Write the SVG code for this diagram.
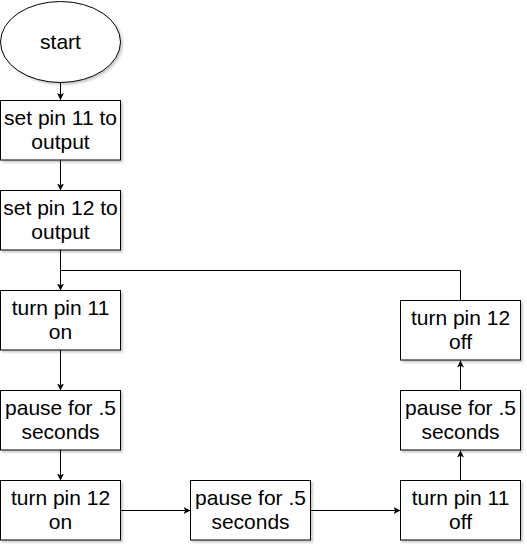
<svg xmlns="http://www.w3.org/2000/svg" width="527" height="547" viewBox="0 0 527 547">
<style>
.n{fill:#fff;stroke:#000;stroke-width:1;filter:url(#sh)}
.t{font-family:"Liberation Sans",Arial,sans-serif;font-size:21px;fill:#000;text-anchor:middle}
.c{fill:none;stroke:#000;stroke-width:1}
</style>
<defs>
<filter id="sh" x="-10%" y="-10%" width="130%" height="130%">
<feDropShadow dx="2" dy="2" stdDeviation="1" flood-color="#000" flood-opacity="0.2"/>
</filter>
<marker id="a" viewBox="0 0 10 10" refX="10" refY="5" markerWidth="7" markerHeight="7" markerUnits="userSpaceOnUse" orient="auto">
<path d="M0,0 L10,5 L0,10 L2.5,5 Z" fill="#000"/>
</marker>
</defs>
<g id="connectors">
<path class="c" d="M60.5,82.5 V100" marker-end="url(#a)"/>
<path class="c" d="M60.5,160 V190.5" marker-end="url(#a)"/>
<path class="c" d="M60.5,250 V290.5" marker-end="url(#a)"/>
<path class="c" d="M460.5,300.5 V270.5 H60.5"/>
<path class="c" d="M60.5,350 V390.5" marker-end="url(#a)"/>
<path class="c" d="M60.5,450 V480.5" marker-end="url(#a)"/>
<path class="c" d="M120.5,510.5 H190.5" marker-end="url(#a)"/>
<path class="c" d="M310.5,510.5 H400.5" marker-end="url(#a)"/>
<path class="c" d="M460.5,480.5 V450.5" marker-end="url(#a)"/>
<path class="c" d="M460.5,390.5 V360.5" marker-end="url(#a)"/>
</g>
<g id="start">
<ellipse class="n" cx="60.5" cy="42" rx="60" ry="40.5"/>
<text class="t" x="60.5" y="49">start</text>
</g>
<g id="set11">
<rect class="n" x="0.5" y="100.5" width="120" height="59.5"/>
<text class="t" x="60.5" y="125">set pin 11 to</text>
<text class="t" x="60.5" y="149">output</text>
</g>
<g id="set12">
<rect class="n" x="0.5" y="190.5" width="120" height="59.5"/>
<text class="t" x="60.5" y="215">set pin 12 to</text>
<text class="t" x="60.5" y="239">output</text>
</g>
<g id="on11">
<rect class="n" x="0.5" y="290.5" width="120" height="59.5"/>
<text class="t" x="60.5" y="315">turn pin 11</text>
<text class="t" x="60.5" y="339">on</text>
</g>
<g id="pause1">
<rect class="n" x="0.5" y="390.5" width="120" height="59.5"/>
<text class="t" x="60.5" y="415">pause for .5</text>
<text class="t" x="60.5" y="439">seconds</text>
</g>
<g id="on12">
<rect class="n" x="0.5" y="480.5" width="120" height="59.5"/>
<text class="t" x="60.5" y="505">turn pin 12</text>
<text class="t" x="60.5" y="529">on</text>
</g>
<g id="pause2">
<rect class="n" x="190.5" y="480.5" width="120" height="59.5"/>
<text class="t" x="250.5" y="505">pause for .5</text>
<text class="t" x="250.5" y="529">seconds</text>
</g>
<g id="off11">
<rect class="n" x="400.5" y="480.5" width="120" height="59.5"/>
<text class="t" x="460.5" y="505">turn pin 11</text>
<text class="t" x="460.5" y="529">off</text>
</g>
<g id="pause3">
<rect class="n" x="400.5" y="390.5" width="120" height="59.5"/>
<text class="t" x="460.5" y="415">pause for .5</text>
<text class="t" x="460.5" y="439">seconds</text>
</g>
<g id="off12">
<rect class="n" x="400.5" y="300.5" width="120" height="59.5"/>
<text class="t" x="460.5" y="325">turn pin 12</text>
<text class="t" x="460.5" y="349">off</text>
</g>
</svg>
